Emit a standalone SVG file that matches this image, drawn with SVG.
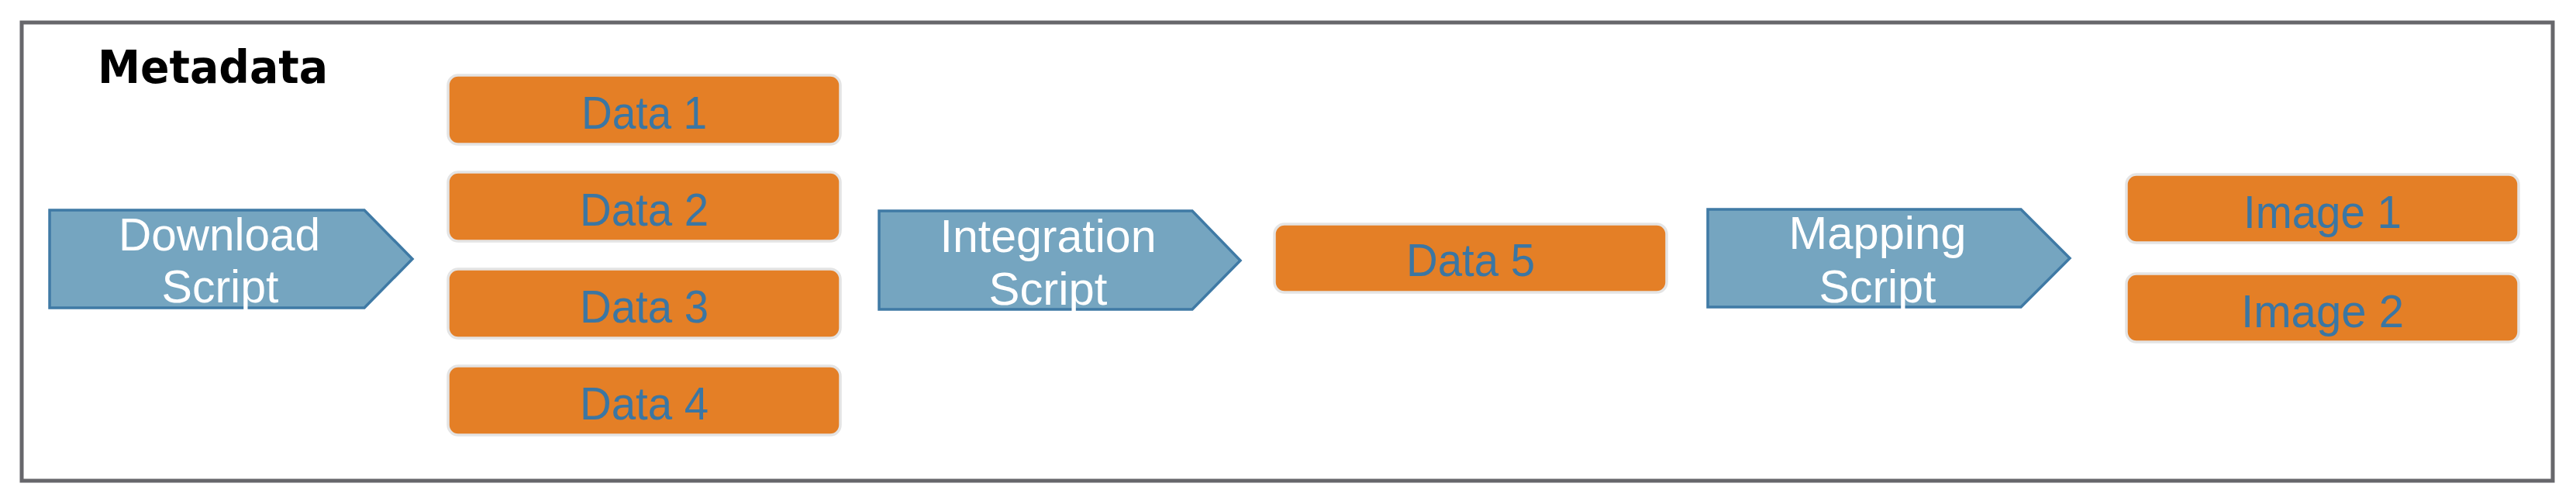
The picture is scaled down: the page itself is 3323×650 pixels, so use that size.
<svg xmlns="http://www.w3.org/2000/svg" width="3323" height="650" viewBox="0 0 3323 650">
<style>
.frame{fill:#ffffff;stroke:#67676b;stroke-width:5}
.title{font-family:"DejaVu Sans",sans-serif;font-weight:bold;font-size:59px;fill:#000000}
.arrow{fill:#75a5c0;stroke:#3f7aa5;stroke-width:3.5;stroke-linejoin:miter}
.atext{font-family:"Liberation Sans",Arial,sans-serif;font-size:60px;fill:#ffffff;text-anchor:middle}
.box{fill:#e47f26;stroke:#e4e4e4;stroke-width:3.5}
.btext{font-family:"Liberation Sans",Arial,sans-serif;font-size:60px;fill:#3b76a3;text-anchor:middle}
</style>
<rect x="0" y="0" width="3323" height="650" fill="#ffffff"/>
<g id="frame">
<rect class="frame" x="28" y="29" width="3265" height="591"/>
<text class="title" x="126" y="107" textLength="297" lengthAdjust="spacingAndGlyphs">Metadata</text>
</g>
<g id="connectors"/>
<g id="download-script">
<polygon class="arrow" points="64,271 470,271 532,334 470,397 64,397"/>
<text class="atext" x="283" y="323" textLength="260" lengthAdjust="spacingAndGlyphs">Download</text>
<text class="atext" x="284" y="390" textLength="151" lengthAdjust="spacingAndGlyphs">Script</text>
</g>
<g id="data1">
<rect class="box" x="578" y="97" width="506" height="89" rx="13"/>
<text class="btext" x="831" y="166" textLength="162" lengthAdjust="spacingAndGlyphs">Data 1</text>
</g>
<g id="data2">
<rect class="box" x="578" y="222" width="506" height="89" rx="13"/>
<text class="btext" x="831" y="291" textLength="166" lengthAdjust="spacingAndGlyphs">Data 2</text>
</g>
<g id="data3">
<rect class="box" x="578" y="347" width="506" height="89" rx="13"/>
<text class="btext" x="831" y="416" textLength="166" lengthAdjust="spacingAndGlyphs">Data 3</text>
</g>
<g id="data4">
<rect class="box" x="578" y="472" width="506" height="89" rx="13"/>
<text class="btext" x="831" y="541" textLength="166" lengthAdjust="spacingAndGlyphs">Data 4</text>
</g>
<g id="integration-script">
<polygon class="arrow" points="1134,272 1538,272 1600,336 1538,399 1134,399"/>
<text class="atext" x="1352" y="325" textLength="279" lengthAdjust="spacingAndGlyphs">Integration</text>
<text class="atext" x="1352" y="393" textLength="153" lengthAdjust="spacingAndGlyphs">Script</text>
</g>
<g id="data5">
<rect class="box" x="1644" y="289" width="506" height="88" rx="13"/>
<text class="btext" x="1897" y="356" textLength="166" lengthAdjust="spacingAndGlyphs">Data 5</text>
</g>
<g id="mapping-script">
<polygon class="arrow" points="2203,270 2607,270 2670,333 2607,396 2203,396"/>
<text class="atext" x="2422" y="321" textLength="229" lengthAdjust="spacingAndGlyphs">Mapping</text>
<text class="atext" x="2422" y="390" textLength="151" lengthAdjust="spacingAndGlyphs">Script</text>
</g>
<g id="image1">
<rect class="box" x="2743" y="225" width="506" height="88" rx="13"/>
<text class="btext" x="2996" y="294" textLength="204" lengthAdjust="spacingAndGlyphs">Image 1</text>
</g>
<g id="image2">
<rect class="box" x="2743" y="353" width="506" height="88" rx="13"/>
<text class="btext" x="2996" y="422" textLength="210" lengthAdjust="spacingAndGlyphs">Image 2</text>
</g>
</svg>
